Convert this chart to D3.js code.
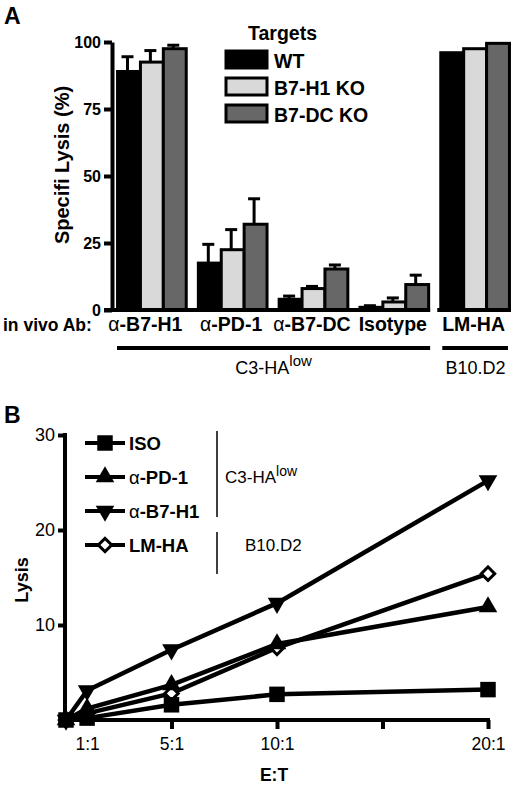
<!DOCTYPE html>
<html>
<head>
<meta charset="utf-8">
<script src="https://cdn.jsdelivr.net/npm/d3@7"></script>
<style>
  body { margin: 0; background: #fff; }
  svg { display: block; font-family: "Liberation Sans", Arial, sans-serif; }
  .axis path, .axis line { stroke: #000; stroke-width: 4; }
  .axis text { fill: #000; }
</style>
</head>
<body>
<svg width="520" height="785"></svg>
<script>
// Panel A data
const abGroups = ["α-B7-H1", "α-PD-1", "α-B7-DC", "Isotype", "LM-HA"];
const targets = ["WT", "B7-H1 KO", "B7-DC KO"];
const wtLysis = [89, 17.5, 4, 1, 96];
const h1Lysis = [92.5, 22.5, 8, 3, 97.5];
const dcLysis = [97.5, 32, 15.3, 9.5, 99.5];
const wtErrTop = [94.5, 24.5, 5.2, 1.6, null];
const h1ErrTop = [96.8, 30, 8.8, 4.5, null];
const dcErrTop = [98.8, 41.5, 16.8, 13, null];
const yTicksA = [0, 25, 50, 75, 100];

// Panel B data
const ratios = [0, 1, 5, 10, 20];
const ratioLabels = { 1: "1:1", 5: "5:1", 10: "10:1", 20: "20:1" };
const isoLysis = [0, 0.2, 1.6, 2.7, 3.2];
const pd1Lysis = [0, 1.2, 3.7, 8, 11.9];
const b7h1Lysis = [0, 3.1, 7.4, 12.3, 25.2];
const lmhaLysis = [0, 0.7, 2.8, 7.6, 15.4];
const seriesNamesB = ["ISO", "α-PD-1", "α-B7-H1", "LM-HA"];
const yTicksB = [10, 20, 30];
const xTicksB = [1, 5, 10, 15, 20];

const svg = d3.select("svg");
const fills = ["#000", "#d9d9d9", "#676767"];

// ---------------- Panel A ----------------
svg.append("text").attr("x", 4).attr("y", 24)
  .attr("font-size", 23).attr("font-weight", "bold").text("A");

const xA = d3.scaleBand().domain(abGroups).range([112, 512])
  .paddingInner(0.15).paddingOuter(0.05);
const xSub = d3.scaleBand().domain(targets).range([0, xA.bandwidth()]);
const yA = d3.scaleLinear().domain([0, 100]).range([310, 42]);

const means = [wtLysis, h1Lysis, dcLysis];
const errs = [wtErrTop, h1ErrTop, dcErrTop];

const barData = [];
abGroups.forEach((g, i) => {
  targets.forEach((t, j) => {
    barData.push({ group: g, target: t, j: j, v: means[j][i], err: errs[j][i] });
  });
});

//   Error bars first so bars sit over the stem
const errG = svg.append("g");
barData.filter(d => d.err != null).forEach(d => {
  const cx = xA(d.group) + xSub(d.target) + xSub.bandwidth() / 2;
  errG.append("line").attr("x1", cx).attr("x2", cx)
    .attr("y1", yA(d.v)).attr("y2", yA(d.err))
    .attr("stroke", "#000").attr("stroke-width", 3);
  errG.append("line").attr("x1", cx - 6).attr("x2", cx + 6)
    .attr("y1", yA(d.err)).attr("y2", yA(d.err))
    .attr("stroke", "#000").attr("stroke-width", 3);
});

//   Bars
svg.append("g").selectAll("rect")
  .data(barData)
  .enter()
  .append("rect")
  .attr("x", d => xA(d.group) + xSub(d.target) + 1.5)
  .attr("width", xSub.bandwidth())
  .attr("y", d => yA(d.v))
  .attr("height", d => yA(0) - yA(d.v))
  .attr("fill", d => fills[d.j])
  .attr("stroke", "#000")
  .attr("stroke-width", 3);

//   Y axis
const yAxisA = svg.append("g").attr("class", "axis")
  .attr("transform", "translate(112,0)")
  .call(d3.axisLeft(yA).tickValues(yTicksA).tickSize(8).tickSizeOuter(0));
yAxisA.selectAll("text").attr("font-size", 16).attr("font-weight", "bold")
  .attr("font-family", "Liberation Sans, Arial, sans-serif");

//   Baselines (two segments)
const leftEnd = xA("Isotype") + xA.bandwidth() + 3;
svg.append("line").attr("x1", 104).attr("x2", leftEnd)
  .attr("y1", yA(0)).attr("y2", yA(0)).attr("stroke", "#000").attr("stroke-width", 4);
svg.append("line").attr("x1", xA("LM-HA") - 2).attr("x2", xA("LM-HA") + xA.bandwidth() + 3)
  .attr("y1", yA(0)).attr("y2", yA(0)).attr("stroke", "#000").attr("stroke-width", 4);

svg.append("text").attr("transform", "translate(69,165) rotate(-90)")
  .attr("text-anchor", "middle").attr("font-size", 20).attr("font-weight", "bold")
  .text("Specifi Lysis (%)");

//   Category labels
svg.append("text").attr("x", 3).attr("y", 331)
  .attr("font-size", 17.5).attr("font-weight", "bold").text("in vivo Ab:");
abGroups.forEach((g, i) => {
  const t = svg.append("text")
    .attr("x", xA(g) + xA.bandwidth() / 2 + (i === 0 ? -5 : 0))
    .attr("y", 331).attr("text-anchor", "middle")
    .attr("font-size", 19.5).attr("font-weight", "bold");
  if (g.startsWith("α")) {
    t.append("tspan").attr("font-weight", "normal").text("α");
    t.append("tspan").text(g.slice(1));
  } else {
    t.text(g);
  }
});

//   Strain underlines
svg.append("line").attr("x1", 117).attr("x2", leftEnd)
  .attr("y1", 348).attr("y2", 348).attr("stroke", "#000").attr("stroke-width", 4);
svg.append("line").attr("x1", xA("LM-HA") + 3).attr("x2", xA("LM-HA") + xA.bandwidth())
  .attr("y1", 348).attr("y2", 348).attr("stroke", "#000").attr("stroke-width", 4);
const c3a = svg.append("text").attr("x", (117 + leftEnd) / 2).attr("y", 374)
  .attr("text-anchor", "middle").attr("font-size", 18);
c3a.append("tspan").text("C3-HA");
c3a.append("tspan").attr("dy", -8).attr("font-size", 15).text("low");
svg.append("text").attr("x", xA("LM-HA") + xA.bandwidth() / 2 + 2).attr("y", 374)
  .attr("text-anchor", "middle").attr("font-size", 18).text("B10.D2");

//   Legend
svg.append("text").attr("x", 248).attr("y", 40)
  .attr("font-size", 19.5).attr("font-weight", "bold").text("Targets");
const legA = svg.append("g").selectAll("g").data(targets).enter().append("g")
  .attr("transform", (d, i) => `translate(226,${51 + i * 27})`);
legA.append("rect").attr("width", 41).attr("height", 17)
  .attr("fill", (d, i) => fills[i]).attr("stroke", "#000").attr("stroke-width", 3);
legA.append("text").attr("x", 48).attr("y", 17)
  .attr("font-size", 19.5).attr("font-weight", "bold").text(d => d);

// ---------------- Panel B ----------------
svg.append("text").attr("x", 4).attr("y", 423)
  .attr("font-size", 23).attr("font-weight", "bold").text("B");

const xB = d3.scaleLinear().domain([0, 20]).range([66, 488]);
const yB = d3.scaleLinear().domain([0, 30]).range([720, 435]);

const xAxisB = svg.append("g").attr("class", "axis")
  .attr("transform", "translate(0,720)")
  .call(d3.axisBottom(xB).tickValues(xTicksB).tickSize(9).tickSizeOuter(0)
    .tickFormat(d => ratioLabels[d] || ""));
xAxisB.select(".domain").attr("d", `M${xB(0) - 3},0H${xB(20) + 2}`);
xAxisB.selectAll(".tick").filter(d => d === 1).select("line").remove();
xAxisB.selectAll("text").attr("font-size", 17.5).attr("dy", "1em")
  .attr("font-family", "Liberation Sans, Arial, sans-serif");

const yAxisB = svg.append("g").attr("class", "axis")
  .attr("transform", "translate(65,0)")
  .call(d3.axisLeft(yB).tickValues(yTicksB).tickSize(7).tickSizeOuter(0));
yAxisB.select(".domain").attr("d", `M0,${yB(30) - 2}V${yB(0) + 2}`);
yAxisB.selectAll("text").attr("font-size", 18)
  .attr("font-family", "Liberation Sans, Arial, sans-serif");

svg.append("text").attr("transform", "translate(28,580) rotate(-90)")
  .attr("text-anchor", "middle").attr("font-size", 18).attr("font-weight", "bold")
  .text("Lysis");
svg.append("text").attr("x", xB(10) - 3).attr("y", 781)
  .attr("text-anchor", "middle").attr("font-size", 17.5).attr("font-weight", "bold")
  .text("E:T");

//   Series
const seriesB = [
  { name: seriesNamesB[0], vals: isoLysis, sym: d3.symbolSquare, size: 240, rot: 0, fill: "#000" },
  { name: seriesNamesB[1], vals: pd1Lysis, sym: d3.symbolTriangle, size: 150, rot: 0, fill: "#000" },
  { name: seriesNamesB[2], vals: b7h1Lysis, sym: d3.symbolTriangle, size: 150, rot: 180, fill: "#000" },
  { name: seriesNamesB[3], vals: lmhaLysis, sym: d3.symbolSquare, size: 90, rot: 45, fill: "#fff" }
];

const line = d3.line().x((d, i) => xB(ratios[i])).y(d => yB(d));
const drawOrder = [3, 1, 0, 2];
drawOrder.forEach(k => {
  const s = seriesB[k];
  svg.append("path").datum(s.vals).attr("d", line)
    .attr("fill", "none").attr("stroke", "#000").attr("stroke-width", 4.5);
});
drawOrder.forEach(k => {
  const s = seriesB[k];
  svg.append("g").selectAll("path").data(s.vals).enter().append("path")
    .attr("d", d3.symbol(s.sym, s.size))
    .attr("transform", (d, i) => `translate(${xB(ratios[i])},${yB(d)}) rotate(${s.rot})`)
    .attr("fill", s.fill).attr("stroke", "#000").attr("stroke-width", s.fill === "#fff" ? 3 : 0);
});

//   Legend B
const legB = svg.append("g").selectAll("g").data(seriesB).enter().append("g")
  .attr("transform", (d, i) => `translate(85,${443 + i * 34})`);
legB.append("line").attr("x1", 0).attr("x2", 40).attr("stroke", "#000").attr("stroke-width", 4);
legB.append("path")
  .attr("d", d => d3.symbol(d.sym, d.size)())
  .attr("transform", d => `translate(20,0) rotate(${d.rot})`)
  .attr("fill", d => d.fill).attr("stroke", "#000")
  .attr("stroke-width", d => d.fill === "#fff" ? 3 : 0);
legB.append("text").attr("x", 44).attr("y", 7)
  .attr("font-size", 18.5).attr("font-weight", "bold")
  .each(function (d) {
    const t = d3.select(this);
    if (d.name.startsWith("α")) {
      t.append("tspan").attr("font-weight", "normal").text("α");
      t.append("tspan").text(d.name.slice(1));
    } else {
      t.text(d.name);
    }
  });

svg.append("line").attr("x1", 217).attr("x2", 217).attr("y1", 431).attr("y2", 517)
  .attr("stroke", "#000").attr("stroke-width", 1.5);
svg.append("line").attr("x1", 217).attr("x2", 217).attr("y1", 532).attr("y2", 574)
  .attr("stroke", "#000").attr("stroke-width", 1.5);
const c3b = svg.append("text").attr("x", 225).attr("y", 483).attr("font-size", 17);
c3b.append("tspan").text("C3-HA");
c3b.append("tspan").attr("dy", -7).attr("font-size", 14).text("low");
svg.append("text").attr("x", 245).attr("y", 551).attr("font-size", 17).text("B10.D2");
</script>
</body>
</html>
